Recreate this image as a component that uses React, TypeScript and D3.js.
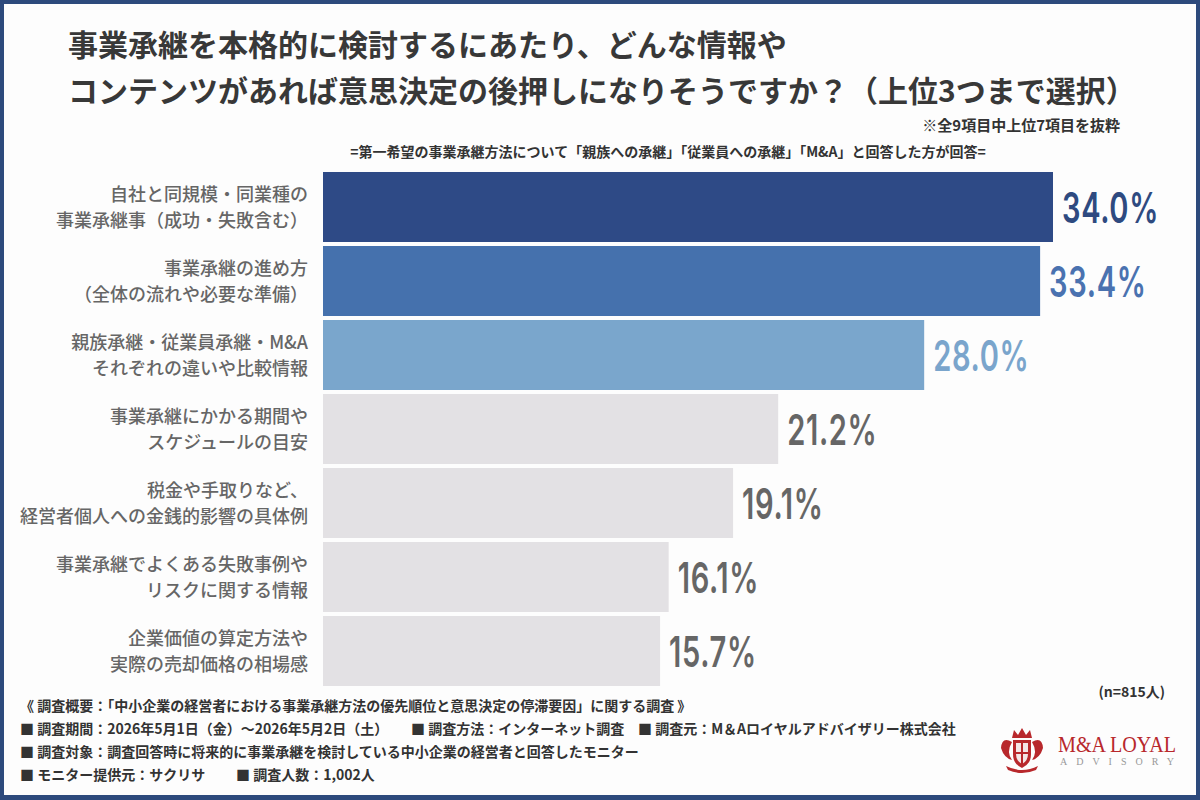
import {useEffect, useRef} from "react";
import * as d3 from "d3";

const categories = [
    ["自社と同規模・同業種の", "事業承継事（成功・失敗含む）"],
    ["事業承継の進め方", "（全体の流れや必要な準備）"],
    ["親族承継・従業員承継・M&A", "それぞれの違いや比較情報"],
    ["事業承継にかかる期間や", "スケジュールの目安"],
    ["税金や手取りなど、", "経営者個人への金銭的影響の具体例"],
    ["事業承継でよくある失敗事例や", "リスクに関する情報"],
    ["企業価値の算定方法や", "実際の売却価格の相場感"],
];
const values = [34.0, 33.4, 28.0, 21.2, 19.1, 16.1, 15.7];
const barColors = ["#2e4a86", "#4571ad", "#7aa6cc", "#e3e1e4", "#e3e1e4", "#e3e1e4", "#e3e1e4"];
const labelColors = ["#2e4a80", "#4a72b0", "#7aa5cc", "#666666", "#666666", "#666666", "#666666"];

const titleLines = [
    "事業承継を本格的に検討するにあたり、どんな情報や",
    "コンテンツがあれば意思決定の後押しになりそうですか？（上位3つまで選択）",
];
const noteText = "※全9項目中上位7項目を抜粋";
const subText = "=第一希望の事業承継方法について「親族への承継」「従業員への承継」「M&A」と回答した方が回答=";
const nText = "(n=815人)";
const footerLines = [
    [{x: 20, t: "《 調査概要：「中小企業の経営者における事業承継方法の優先順位と意思決定の停滞要因」に関する調査 》"}],
    [{x: 20, t: "■ 調査期間：2026年5月1日（金）～2026年5月2日（土）"}, {x: 411, t: "■ 調査方法：インターネット調査"}, {x: 638, t: "■ 調査元：M＆Aロイヤルアドバイザリー株式会社"}],
    [{x: 20, t: "■ 調査対象：調査回答時に将来的に事業承継を検討している中小企業の経営者と回答したモニター"}],
    [{x: 20, t: "■ モニター提供元：サクリサ"}, {x: 236, t: "■ 調査人数：1,002人"}],
];

const JP = "'Noto Sans CJK JP', 'Noto Sans', sans-serif";

const App = () => {
    const ref = useRef<SVGSVGElement>(null);

    useEffect(() => {
        const svg = d3.select(ref.current);
        svg.selectAll("*").remove();
        const W = 1200, H = 800;

        svg.append("rect").attr("width", W).attr("height", H).attr("fill", "#2d4a7c");
        svg.append("rect").attr("x", 4).attr("y", 4).attr("width", W - 8).attr("height", H - 9).attr("fill", "#fdfdfd");

        // title
        svg.selectAll("text.title").data(titleLines).enter().append("text")
            .attr("x", 68).attr("y", (d, i) => 56 + i * 46)
            .attr("font-family", JP).attr("font-weight", 700).attr("font-size", 30)
            .attr("fill", "#383838").text(d => d);

        svg.append("text").attr("x", 1120).attr("y", 131).attr("text-anchor", "end")
            .attr("font-family", JP).attr("font-weight", 700).attr("font-size", 15)
            .attr("fill", "#333").text(noteText);
        svg.append("text").attr("x", 668).attr("y", 157).attr("text-anchor", "middle")
            .attr("font-family", JP).attr("font-weight", 700).attr("font-size", 14)
            .attr("fill", "#333").text(subText);

        const x = d3.scaleLinear().domain([0, 34]).range([323, 1053]);
        const y = d3.scaleBand<number>().domain(d3.range(values.length))
            .range([170, 688]).paddingInner(4 / 74).paddingOuter(2 / 74);

        svg.selectAll("rect.bar").data(values).enter().append("rect")
            .attr("class", "bar")
            .attr("x", x(0)).attr("y", (d, i) => y(i)!)
            .attr("width", d => x(d) - x(0)).attr("height", y.bandwidth())
            .attr("fill", (d, i) => barColors[i]);

        const vals = svg.selectAll("text.val").data(values).enter().append("text")
            .attr("class", "val")
            .attr("font-family", "Inter, Roboto, sans-serif").attr("font-weight", 600).attr("font-size", 43)
            .attr("letter-spacing", 1)
            .attr("fill", (d, i) => labelColors[i])
            .text(d => d.toFixed(1) + "%");
        // squeeze the numbers so they read like a condensed face
        const w0 = (vals.node() as SVGTextElement).getComputedTextLength();
        const sx = w0 > 0 ? 97 / w0 : 0.8;
        vals.attr("transform", (d, i) => `translate(${x(d) + 9},${y(i)! + y.bandwidth() / 2 + 15.5}) scale(${sx},1)`);

        const cat = svg.selectAll("g.cat").data(categories).enter().append("g")
            .attr("transform", (d, i) => `translate(308,${y(i)! + y.bandwidth() / 2})`);
        cat.selectAll("text").data(d => d).enter().append("text")
            .attr("y", (d, i) => i === 0 ? -6 : 20)
            .attr("text-anchor", "end")
            .attr("font-family", JP).attr("font-weight", 500).attr("font-size", 18)
            .attr("fill", "#666").text(d => d);

        svg.append("text").attr("x", 1165).attr("y", 697).attr("text-anchor", "end")
            .attr("font-family", JP).attr("font-weight", 700).attr("font-size", 14)
            .attr("fill", "#333").text(nText);

        // footer
        footerLines.forEach((line, i) => {
            line.forEach(seg => {
                svg.append("text").attr("x", seg.x).attr("y", 711 + i * 23)
                    .attr("font-family", JP).attr("font-weight", 700).attr("font-size", 14)
                    .attr("fill", "#333").text(seg.t);
            });
        });

        // logo
        const logo = svg.append("g").attr("transform", "translate(1000,728)");
        const red = "#b8282c";
        logo.append("path").attr("d", "M12,10 L14,2 L18,7 L22,0 L26,7 L30,2 L32,10 Z").attr("fill", red);
        logo.append("path").attr("d", "M13,12 L31,12 L31,26 Q31,36 22,40 Q13,36 13,26 Z").attr("fill", red);
        logo.append("path").attr("d", "M16,15 L28,15 L28,26 Q28,33 22,36 Q16,33 16,26 Z").attr("fill", "#f4e6e6");
        logo.append("path").attr("d", "M22,15 L22,36 M16,25 L28,25").attr("stroke", red).attr("stroke-width", 2);
        logo.append("path").attr("d", "M12,14 Q2,8 1,20 Q4,30 12,32 Q6,24 12,14 Z").attr("fill", red);
        logo.append("path").attr("d", "M32,14 Q42,8 43,20 Q40,30 32,32 Q38,24 32,14 Z").attr("fill", red);
        logo.append("path").attr("d", "M6,38 Q22,46 38,38 L36,42 Q22,48 8,42 Z").attr("fill", red);
        logo.append("text").attr("x", 58).attr("y", 24)
            .attr("font-family", "'Liberation Serif', 'DejaVu Serif', serif").attr("font-size", 24)
            .attr("fill", red).attr("textLength", 118).attr("lengthAdjust", "spacingAndGlyphs").text("M&A LOYAL");
        logo.append("text").attr("x", 60).attr("y", 37)
            .attr("font-family", "'Liberation Serif', 'DejaVu Serif', serif").attr("font-size", 10)
            .attr("fill", "#999").attr("textLength", 114).attr("lengthAdjust", "spacing").text("ADVISORY");
    }, []);

    return (
        <svg ref={ref} width={1200} height={800}
             style={{position: "absolute", left: 0, top: 0, display: "block"}}/>
    );
};

export default App;
